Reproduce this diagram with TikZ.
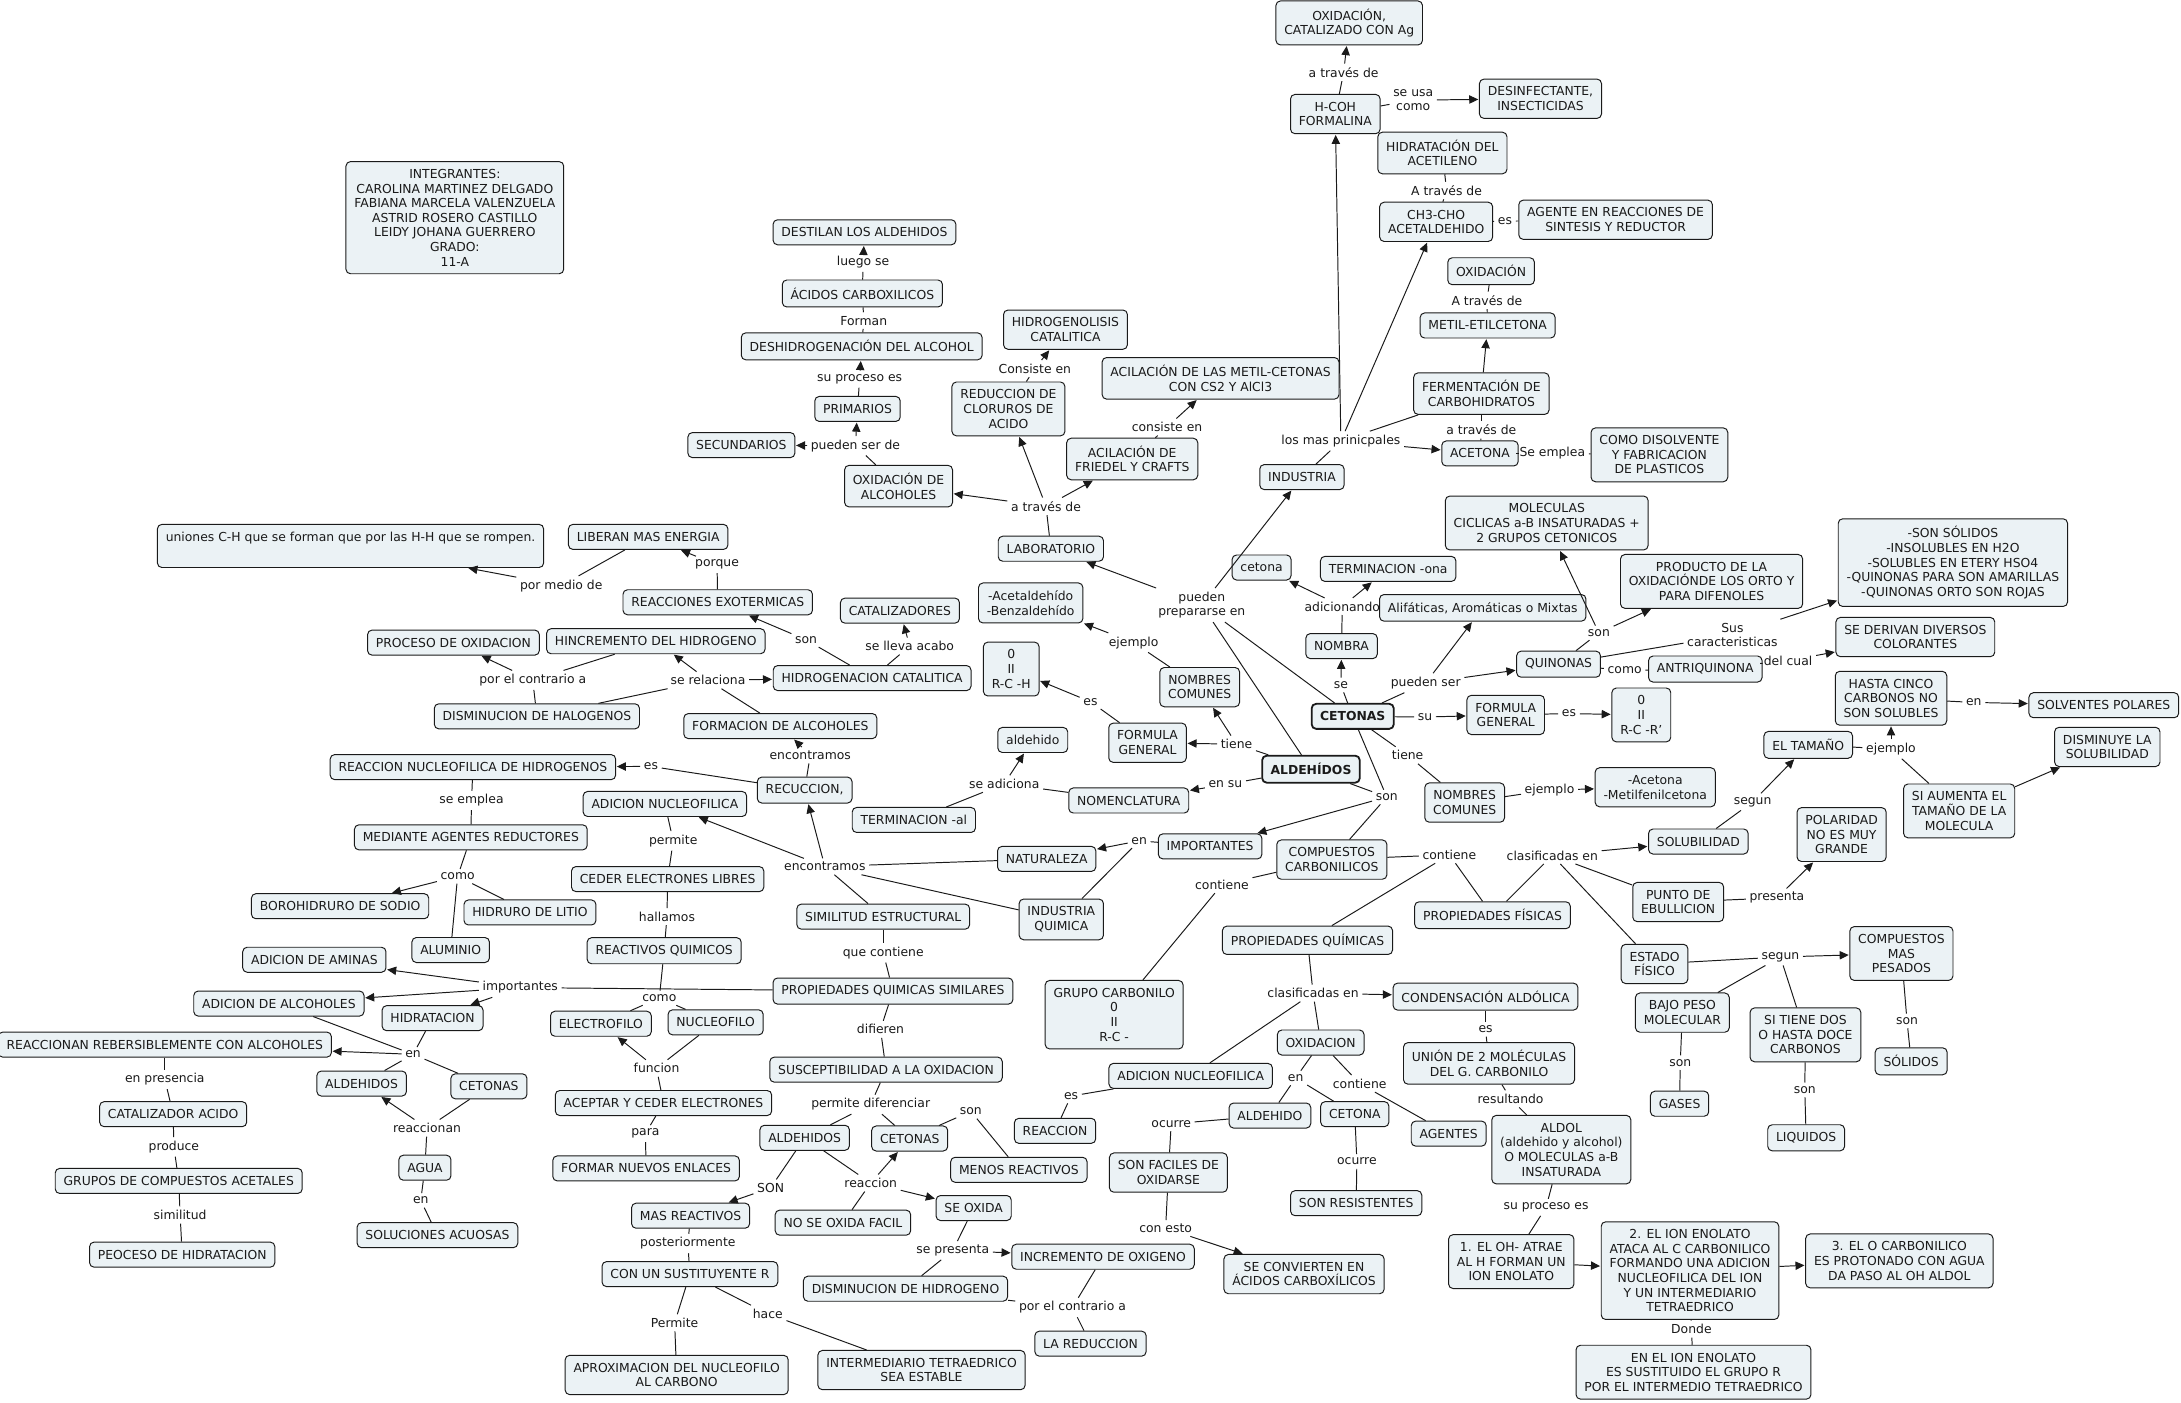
\documentclass[tikz,border=0pt]{standalone}
\usepackage{fontspec}
\setmainfont{DejaVu Sans}
\usetikzlibrary{arrows.meta}
\definecolor{cfill}{HTML}{EBF2F5}
\definecolor{ink}{HTML}{1A1A1A}
\newcommand\cf{\fontsize{8.9}{10.5}\selectfont}
\newcommand\cL[2]{\draw[ln] (#1) -- (#2);}
\newcommand\cA[2]{\draw[ar] (#1) -- (#2);}
\begin{document}
\begin{tikzpicture}[x=1pt,y=-1pt,
 cpt/.style={draw=ink, fill=cfill, rounded corners=3.2pt, align=center, inner xsep=6pt, inner ysep=5.5pt, minimum height=18pt, font=\cf, text=ink, line width=0.7pt},
 bcpt/.style={cpt, font=\cf\bfseries, line width=1.3pt},
 lk/.style={align=center, inner sep=2.5pt, font=\cf, text=ink},
 ln/.style={draw=ink, line width=0.7pt},
 ar/.style={ln, -{Triangle[length=6.5pt,width=6pt]}, shorten >=0.5pt}]
\fill[white] (0,0) rectangle (1568,1008);
\useasboundingbox (0,0) rectangle (1568,1008);

% ---------------- concepts ----------------
\node[cpt] (oxag) at (970,16.5) {OXIDACIÓN,\\CATALIZADO CON Ag};
\node[cpt] (hcoh) at (960,82) {H-COH\\FORMALINA};
\node[cpt] (desin) at (1107.5,71) {DESINFECTANTE,\\INSECTICIDAS};
\node[cpt] (hidac) at (1037,110) {HIDRATACIÓN DEL\\ACETILENO};
\node[cpt] (ch3) at (1032.5,159.5) {CH3-CHO\\ACETALDEHIDO};
\node[cpt] (agente) at (1161.5,158) {AGENTE EN REACCIONES DE\\SINTESIS Y REDUCTOR};
\node[cpt] (oxid) at (1072,195) {OXIDACIÓN};
\node[cpt] (metil) at (1069.5,234) {METIL-ETILCETONA};
\node[cpt] (ferm) at (1065,283) {FERMENTACIÓN DE\\CARBOHIDRATOS};
\node[cpt] (acetona) at (1064,326) {ACETONA};
\node[cpt] (disolv) at (1193,327) {COMO DISOLVENTE\\Y FABRICACION\\DE PLASTICOS};
\node[cpt] (ind) at (936,343) {INDUSTRIA};
\node[cpt] (acilm) at (877.5,272) {ACILACIÓN DE LAS METIL-CETONAS\\CON CS2 Y AlCl3};
\node[cpt] (acilf) at (814,330) {ACILACIÓN DE\\FRIEDEL Y CRAFTS};
\node[cpt] (hidrog) at (766,237) {HIDROGENOLISIS\\CATALITICA};
\node[cpt] (reducc) at (725,294) {REDUCCION DE\\CLORUROS DE\\ACIDO};
\node[cpt] (lab) at (755.5,394.5) {LABORATORIO};
\node[cpt] (oxalc) at (646,349.5) {OXIDACIÓN DE\\ALCOHOLES};
\node[cpt] (secund) at (533,320) {SECUNDARIOS};
\node[cpt] (prim) at (616.5,294) {PRIMARIOS};
\node[cpt] (deshid) at (619.5,249) {DESHIDROGENACIÓN DEL ALCOHOL};
\node[cpt] (acidos) at (620,211) {ÁCIDOS CARBOXILICOS};
\node[cpt] (destil) at (621.5,167) {DESTILAN LOS ALDEHIDOS};
\node[cpt] (integ) at (327,156.5) {INTEGRANTES:\\CAROLINA MARTINEZ DELGADO\\FABIANA MARCELA VALENZUELA\\ASTRID ROSERO CASTILLO\\LEIDY JOHANA GUERRERO\\GRADO:\\11-A};
\node[cpt, text height=7pt, text depth=13pt] (uniones) at (252,392.5) {uniones C-H que se forman que por las H-H que se rompen.};
\node[cpt] (liberan) at (466,386) {LIBERAN MAS ENERGIA};
\node[cpt] (exot) at (516,433) {REACCIONES EXOTERMICAS};
\node[cpt] (catal) at (647,439) {CATALIZADORES};
\node[cpt] (proc) at (326,462) {PROCESO DE OXIDACION};
\node[cpt] (hincr) at (471.5,461) {HINCREMENTO DEL HIDROGENO};
\node[cpt] (hidrocat) at (627,487.5) {HIDROGENACION CATALITICA};
\node[cpt] (dishal) at (386,515) {DISMINUCION DE HALOGENOS};
\node[cpt] (formalc) at (561,522) {FORMACION DE ALCOHOLES};
\node[cpt] (reacnuc) at (340,551.5) {REACCION NUCLEOFILICA DE HIDROGENOS};
\node[cpt] (recucc) at (578.5,568) {RECUCCION,};
\node[cpt] (adnuc1) at (478,578) {ADICION NUCLEOFILICA};
\node[cpt] (mediante) at (338.5,602) {MEDIANTE AGENTES REDUCTORES};
\node[cpt] (ceder) at (480,632) {CEDER ELECTRONES LIBRES};
\node[cpt] (boro) at (244.5,651.5) {BOROHIDRURO DE SODIO};
\node[cpt] (litio) at (381,656) {HIDRURO DE LITIO};
\node[cpt] (alum) at (324,683) {ALUMINIO};
\node[cpt] (reactq) at (477.5,683.5) {REACTIVOS QUIMICOS};
\node[cpt] (aminas) at (226,690) {ADICION DE AMINAS};
\node[cpt] (adalc) at (200.5,721.5) {ADICION DE ALCOHOLES};
\node[cpt] (hidrat) at (311,732) {HIDRATACION};
\node[cpt] (rever) at (118.5,751) {REACCIONAN REBERSIBLEMENTE CON ALCOHOLES};
\node[cpt] (ald1) at (260,779) {ALDEHIDOS};
\node[cpt] (cet1) at (351.5,781) {CETONAS};
\node[cpt] (agua) at (305.5,839.5) {AGUA};
\node[cpt] (solac) at (314.5,888) {SOLUCIONES ACUOSAS};
\node[cpt] (catac) at (124.5,801) {CATALIZADOR ACIDO};
\node[cpt] (grupos) at (128.5,849) {GRUPOS DE COMPUESTOS ACETALES};
\node[cpt] (peoc) at (131,902) {PEOCESO DE HIDRATACION};
\node[cpt] (electro) at (432,736) {ELECTROFILO};
\node[cpt] (nucleo) at (514.5,735) {NUCLEOFILO};
\node[cpt] (aceptar) at (477,793) {ACEPTAR Y CEDER ELECTRONES};
\node[cpt] (formar) at (464.5,840) {FORMAR NUEVOS ENLACES};
\node[cpt] (simil) at (635,659) {SIMILITUD ESTRUCTURAL};
\node[cpt] (pqs) at (642,712.5) {PROPIEDADES QUIMICAS SIMILARES};
\node[cpt] (suscep) at (637,769) {SUSCEPTIBILIDAD A LA OXIDACION};
\node[cpt] (ald2) at (578.5,818) {ALDEHIDOS};
\node[cpt] (cet2) at (654,818.5) {CETONAS};
\node[cpt] (menos) at (732.5,841) {MENOS REACTIVOS};
\node[cpt] (mas) at (496.5,874) {MAS REACTIVOS};
\node[cpt] (nooxida) at (606,879) {NO SE OXIDA FACIL};
\node[cpt] (seoxida) at (700,868.5) {SE OXIDA};
\node[cpt] (sustit) at (496,916) {CON UN SUSTITUYENTE R};
\node[cpt] (dishid) at (651,926.5) {DISMINUCION DE HIDROGENO};
\node[cpt] (incox) at (793,903.5) {INCREMENTO DE OXIGENO};
\node[cpt] (reduc) at (784,966) {LA REDUCCION};
\node[cpt] (aprox) at (486.5,988.5) {APROXIMACION DEL NUCLEOFILO\\AL CARBONO};
\node[cpt] (inter) at (662.5,985) {INTERMEDIARIO TETRAEDRICO\\SEA ESTABLE};
\node[cpt] (reaccion) at (758.5,813) {REACCION};
\node[cpt] (adnuc2) at (856,773.5) {ADICION NUCLEOFILICA};
\node[cpt] (gcarb) at (801,729.5) {GRUPO CARBONILO\\0\\II\\R-C -};
\node[cpt] (pquim) at (940,676) {PROPIEDADES QUÍMICAS};
\node[cpt] (oxmid) at (949.5,749.5) {OXIDACION};
\node[cpt] (conden) at (1068,716.5) {CONDENSACIÓN ALDÓLICA};
\node[cpt] (union) at (1070.5,764.5) {UNIÓN DE 2 MOLÉCULAS\\DEL G. CARBONILO};
\node[cpt] (ald3) at (913,802) {ALDEHIDO};
\node[cpt] (cet3) at (974,801) {CETONA};
\node[cpt] (agentes) at (1041.5,815) {AGENTES};
\node[cpt] (faciles) at (840,843) {SON FACILES DE\\OXIDARSE};
\node[cpt] (resist) at (975,865) {SON RESISTENTES};
\node[cpt] (convier) at (937.5,916) {SE CONVIERTEN EN\\ÁCIDOS CARBOXÍLICOS};
\node[cpt] (aldol) at (1122.5,826.5) {ALDOL\\(aldehido y alcohol)\\O MOLECULAS a-B\\INSATURADA};
\node[cpt] (paso1) at (1086.5,907) {1. EL OH- ATRAE\\AL H FORMAN UN\\ION ENOLATO};
\node[cpt] (paso2) at (1215,913.5) {2. EL ION ENOLATO\\ATACA AL C CARBONILICO\\FORMANDO UNA ADICION\\NUCLEOFILICA DEL ION\\Y UN INTERMEDIARIO\\TETRAEDRICO};
\node[cpt] (paso3) at (1365.5,906.5) {3. EL O CARBONILICO\\ES PROTONADO CON AGUA\\DA PASO AL OH ALDOL};
\node[cpt] (enion) at (1217.5,986.5) {EN EL ION ENOLATO\\ES SUSTITUIDO EL GRUPO R\\POR EL INTERMEDIO TETRAEDRICO};
\node[cpt] (pfis) at (1073,658) {PROPIEDADES FÍSICAS};
\node[cpt] (compcarb) at (957.5,618) {COMPUESTOS\\CARBONILICOS};
\node[cpt] (import) at (870,608.5) {IMPORTANTES};
\node[cpt] (natur) at (752.5,617.5) {NATURALEZA};
\node[cpt] (indq) at (763,661) {INDUSTRIA\\QUIMICA};
\node[cpt] (nomen) at (811.5,575.5) {NOMENCLATURA};
\node[bcpt] (aldh) at (942.5,553) {ALDEHÍDOS};
\node[cpt] (fg1) at (825,534) {FORMULA\\GENERAL};
\node[cpt] (nc1) at (862.5,494) {NOMBRES\\COMUNES};
\node[cpt] (rch) at (727,481) {0\\II\\R-C -H};
\node[cpt] (acetal) at (741,433.5) {-Acetaldehído\\-Benzaldehído};
\node[cpt] (aldehido) at (742.5,532) {aldehido};
\node[cpt] (termal) at (657,589.5) {TERMINACION -al};
\node[cpt] (cetona) at (907,408) {cetona};
\node[cpt] (termona) at (998,409) {TERMINACION -ona};
\node[cpt] (alif) at (1066,437) {Alifáticas, Aromáticas o Mixtas};
\node[cpt] (nombra) at (964.5,464.5) {NOMBRA};
\node[bcpt] (ceto) at (972.5,515) {CETONAS};
\node[cpt] (fg2) at (1082.5,514) {FORMULA\\GENERAL};
\node[cpt] (rcr) at (1180,514) {0\\II\\R-C -R'};
\node[cpt] (nc2) at (1053,577) {NOMBRES\\COMUNES};
\node[cpt] (acetonaej) at (1190,566) {-Acetona\\-Metilfenilcetona};
\node[cpt] (quin) at (1120.5,477.5) {QUINONAS};
\node[cpt] (molec) at (1112,376) {MOLECULAS\\CICLICAS a-B INSATURADAS +\\2 GRUPOS CETONICOS};
\node[cpt] (prod) at (1230.5,418) {PRODUCTO DE LA\\OXIDACIÓNDE LOS ORTO Y\\PARA DIFENOLES};
\node[cpt] (sonsol) at (1404,404.5) {-SON SÓLIDOS\\-INSOLUBLES EN H2O\\-SOLUBLES EN ETERY HSO4\\-QUINONAS PARA SON AMARILLAS\\-QUINONAS ORTO SON ROJAS};
\node[cpt] (deriv) at (1377,458) {SE DERIVAN DIVERSOS\\COLORANTES};
\node[cpt] (antri) at (1226,481) {ANTRIQUINONA};
\node[cpt] (hasta) at (1359.5,502) {HASTA CINCO\\CARBONOS NO\\SON SOLUBLES};
\node[cpt] (solv) at (1512.5,507) {SOLVENTES POLARES};
\node[cpt] (tam) at (1300,535.5) {EL TAMAÑO};
\node[cpt] (dismin) at (1515,537) {DISMINUYE LA\\SOLUBILIDAD};
\node[cpt] (siaum) at (1408.5,583) {SI AUMENTA EL\\TAMAÑO DE LA\\MOLECULA};
\node[cpt] (solub) at (1221,605) {SOLUBILIDAD};
\node[cpt] (polar) at (1324,600) {POLARIDAD\\NO ES MUY\\GRANDE};
\node[cpt] (punto) at (1206.5,648.5) {PUNTO DE\\EBULLICION};
\node[cpt] (estado) at (1189.5,693) {ESTADO\\FÍSICO};
\node[cpt] (compmas) at (1367,685.5) {COMPUESTOS\\MAS\\PESADOS};
\node[cpt] (bajo) at (1209.5,728) {BAJO PESO\\MOLECULAR};
\node[cpt] (sitiene) at (1298,744) {SI TIENE DOS\\O HASTA DOCE\\CARBONOS};
\node[cpt] (solidos) at (1374,763) {SÓLIDOS};
\node[cpt] (gases) at (1207.5,793.5) {GASES};
\node[cpt] (liq) at (1298.5,818) {LIQUIDOS};

% ---------------- linking phrases ----------------
\node[lk] (l1) at (966,52) {a través de};
\node[lk] (l2) at (1016,72) {se usa\\como};
\node[lk] (l3) at (1040,137) {A través de};
\node[lk] (l4) at (1082,159) {es};
\node[lk] (l5) at (1069,216) {A través de};
\node[lk] (l6) at (1065,309) {a través de};
\node[lk] (l7) at (1116,326) {Se emplea};
\node[lk] (l8) at (964,317) {los mas prinicpales};
\node[lk] (l9) at (839,307) {consiste en};
\node[lk] (l10) at (744,265) {Consiste en};
\node[lk] (l11) at (752,364) {a través de};
\node[lk] (l12) at (864,435) {pueden\\prepararse en};
\node[lk] (l13) at (615,320.5) {pueden ser de};
\node[lk] (l14) at (618,272.5) {su proceso es};
\node[lk] (l15) at (621,230.5) {Forman};
\node[lk] (l16) at (620.5,188.5) {luego se};
\node[lk] (l17) at (403.5,421) {por medio de};
\node[lk] (l18) at (515.5,406) {porque};
\node[lk] (l19) at (579.5,460) {son};
\node[lk] (l20) at (654,464.5) {se lleva acabo};
\node[lk] (l21) at (509,489) {se relaciona};
\node[lk] (l22) at (383,489) {por el contrario a};
\node[lk] (l23) at (582.5,543) {encontramos};
\node[lk] (l24) at (468,551) {es};
\node[lk] (l25) at (339,575.5) {se emplea};
\node[lk] (l26) at (329,630) {como};
\node[lk] (l27) at (593,623) {encontramos};
\node[lk] (l28) at (484,604.5) {permite};
\node[lk] (l29) at (479.5,659) {hallamos};
\node[lk] (l30) at (474,717.5) {como};
\node[lk] (l31) at (374,710) {importantes};
\node[lk] (l32) at (472,768) {funcion};
\node[lk] (l33) at (464,815) {para};
\node[lk] (l34) at (297,758) {en};
\node[lk] (l35) at (307,811) {reaccionan};
\node[lk] (l36) at (302.5,863) {en};
\node[lk] (l37) at (118.5,776) {en presencia};
\node[lk] (l38) at (125,824.5) {produce};
\node[lk] (l39) at (129.5,873.5) {similitud};
\node[lk] (l40) at (635,685) {que contiene};
\node[lk] (l41) at (633,740) {difieren};
\node[lk] (l42) at (626,794) {permite diferenciar};
\node[lk] (l43) at (698,799) {son};
\node[lk] (l44) at (554,854) {SON};
\node[lk] (l45) at (626,850.5) {reaccion};
\node[lk] (l46) at (494.5,894) {posteriormente};
\node[lk] (l47) at (485,951) {Permite};
\node[lk] (l48) at (552,944.5) {hace};
\node[lk] (l49) at (685,899) {se presenta};
\node[lk] (l50) at (771,940) {por el contrario a};
\node[lk] (l51) at (770,788) {es};
\node[lk] (l52) at (944,714) {clasificadas en};
\node[lk] (l53) at (931.5,775) {en};
\node[lk] (l54) at (977.5,779) {contiene};
\node[lk] (l55) at (842,808) {ocurre};
\node[lk] (l56) at (975.5,835) {ocurre};
\node[lk] (l57) at (838,883) {con esto};
\node[lk] (l58) at (1068,740) {es};
\node[lk] (l59) at (1086,790) {resultando};
\node[lk] (l60) at (1111.5,868) {su proceso es};
\node[lk] (l61) at (1216,955.5) {Donde};
\node[lk] (l62) at (1042,614.5) {contiene};
\node[lk] (l63) at (878.5,636) {contiene};
\node[lk] (l64) at (1116,615) {clasificadas en};
\node[lk] (l65) at (1260,576.5) {segun};
\node[lk] (l66) at (1359.5,538.5) {ejemplo};
\node[lk] (l67) at (1419,505) {en};
\node[lk] (l68) at (1277.5,645.5) {presenta};
\node[lk] (l69) at (1280,688) {segun};
\node[lk] (l70) at (1371,734) {son};
\node[lk] (l71) at (1208,764) {son};
\node[lk] (l72) at (1297.5,783.5) {son};
\node[lk] (l73) at (1149.5,455) {son};
\node[lk] (l74) at (1245.5,456.5) {Sus\\caracteristicas};
\node[lk] (l75) at (1168,482) {como};
\node[lk] (l76) at (1285.5,475) {del cual};
\node[lk] (l77) at (1025,491) {pueden ser};
\node[lk] (l78) at (964,492.5) {se};
\node[lk] (l79) at (965,436) {adicionando};
\node[lk] (l80) at (1024.5,515.5) {su};
\node[lk] (l81) at (1128,513) {es};
\node[lk] (l82) at (1012,543) {tiene};
\node[lk] (l83) at (1114,568) {ejemplo};
\node[lk] (l84) at (997,573) {son};
\node[lk] (l85) at (819,604.5) {en};
\node[lk] (l86) at (889,535) {tiene};
\node[lk] (l87) at (784,504.5) {es};
\node[lk] (l88) at (815,462) {ejemplo};
\node[lk] (l89) at (881,564) {en su};
\node[lk] (l90) at (722,563.5) {se adiciona};

% ---------------- connectors ----------------
\cL{hcoh}{l1} \cA{l1}{oxag}
\cL{hcoh}{l2} \cA{l2}{desin}
\cL{hidac}{l3} \cL{l3}{ch3}
\cL{ch3}{l4} \cL{l4}{agente}
\cL{oxid}{l5} \cL{l5}{metil}
\cL{ferm}{l6} \cL{l6}{acetona}
\cL{acetona}{l7} \cL{l7}{disolv}
\cL{ind}{l8} \cA{l8}{hcoh} \cA{l8}{ch3} \cL{l8}{ferm} \cA{ferm}{metil} \cA{l8}{acetona}
\cL{acilf}{l9} \cA{l9}{acilm}
\cL{reducc}{l10} \cA{l10}{hidrog}
\cL{lab}{l11} \cA{l11}{oxalc} \cA{l11}{reducc} \cA{l11}{acilf}
\cL{aldh}{l12} \cL{ceto}{l12} \cA{l12}{lab} \cA{l12}{ind}
\cL{oxalc}{l13} \cA{l13}{prim} \cA{l13}{secund}
\cL{prim}{l14} \cA{l14}{deshid}
\cL{deshid}{l15} \cL{l15}{acidos}
\cL{acidos}{l16} \cA{l16}{destil}
\cL{liberan}{l17} \cA{l17}{uniones}
\cL{exot}{l18} \cA{l18}{liberan}
\cL{hidrocat}{l19} \cA{l19}{exot}
\cL{hidrocat}{l20} \cA{l20}{catal}
\cL{dishal}{l21} \cL{formalc}{l21} \cA{l21}{hincr} \cA{l21}{hidrocat}
\cL{hincr}{l22} \cL{dishal}{l22} \cA{l22}{proc}
\cL{recucc}{l23} \cA{l23}{formalc}
\cL{recucc}{l24} \cA{l24}{reacnuc}
\cL{reacnuc}{l25} \cL{l25}{mediante}
\cL{mediante}{l26} \cA{l26}{boro} \cL{l26}{litio} \cL{l26}{alum}
\cL{simil}{l27} \cL{natur}{l27} \cL{indq}{l27} \cA{l27}{recucc} \cA{l27}{adnuc1}
\cL{adnuc1}{l28} \cL{l28}{ceder}
\cL{ceder}{l29} \cL{l29}{reactq}
\cL{reactq}{l30} \cL{l30}{electro} \cL{l30}{nucleo}
\cL{pqs}{l31} \cA{l31}{aminas} \cA{l31}{adalc} \cA{l31}{hidrat}
\cL{nucleo}{l32} \cA{l32}{electro} \cL{l32}{aceptar}
\cL{aceptar}{l33} \cL{l33}{formar}
\cL{hidrat}{l34} \cL{adalc}{l34} \cL{ald1}{l34} \cL{cet1}{l34} \cA{l34}{rever}
\cL{cet1}{l35} \cA{l35}{ald1} \cL{l35}{agua}
\cL{agua}{l36} \cL{l36}{solac}
\cL{rever}{l37} \cL{l37}{catac}
\cL{catac}{l38} \cL{l38}{grupos}
\cL{grupos}{l39} \cL{l39}{peoc}
\cL{simil}{l40} \cL{l40}{pqs}
\cL{pqs}{l41} \cL{l41}{suscep}
\cL{suscep}{l42} \cL{l42}{ald2} \cL{l42}{cet2}
\cL{cet2}{l43} \cL{l43}{menos}
\cL{ald2}{l44} \cA{l44}{mas}
\cL{ald2}{l45} \cL{nooxida}{l45} \cA{l45}{cet2} \cA{l45}{seoxida}
\cL{mas}{l46} \cL{l46}{sustit}
\cL{sustit}{l47} \cL{l47}{aprox}
\cL{sustit}{l48} \cL{l48}{inter}
\cL{seoxida}{l49} \cL{dishid}{l49} \cA{l49}{incox}
\cL{incox}{l50} \cL{dishid}{l50} \cL{l50}{reduc}
\cL{adnuc2}{l51} \cL{l51}{reaccion}
\cL{pquim}{l52} \cA{l52}{conden} \cL{l52}{adnuc2} \cL{l52}{oxmid}
\cL{oxmid}{l53} \cL{l53}{ald3} \cL{l53}{cet3}
\cL{oxmid}{l54} \cL{l54}{agentes}
\cL{ald3}{l55} \cL{l55}{faciles}
\cL{cet3}{l56} \cL{l56}{resist}
\cL{faciles}{l57} \cA{l57}{convier}
\cL{conden}{l58} \cL{l58}{union}
\cL{union}{l59} \cL{l59}{aldol}
\cL{aldol}{l60} \cL{l60}{paso1}
\cA{paso1}{paso2} \cA{paso2}{paso3}
\cL{paso2}{l61} \cL{l61}{enion}
\cL{compcarb}{l62} \cL{l62}{pquim} \cL{l62}{pfis}
\cL{compcarb}{l63} \cL{l63}{gcarb}
\cL{pfis}{l64} \cA{l64}{solub} \cL{l64}{punto} \cL{l64}{estado}
\cL{solub}{l65} \cA{l65}{tam}
\cL{tam}{l66} \cL{siaum}{l66} \cA{l66}{hasta}
\cL{hasta}{l67} \cA{l67}{solv}
\cA{siaum}{dismin}
\cL{punto}{l68} \cA{l68}{polar}
\cL{estado}{l69} \cA{l69}{compmas} \cL{l69}{bajo} \cL{l69}{sitiene}
\cL{compmas}{l70} \cL{l70}{solidos}
\cL{bajo}{l71} \cL{l71}{gases}
\cL{sitiene}{l72} \cL{l72}{liq}
\cL{quin}{l73} \cA{l73}{molec} \cA{l73}{prod}
\cL{quin}{l74} \cA{l74}{sonsol}
\cL{quin}{l75} \cL{l75}{antri}
\cL{antri}{l76} \cA{l76}{deriv}
\cL{ceto}{l77} \cA{l77}{quin} \cA{l77}{alif}
\cL{ceto}{l78} \cA{l78}{nombra}
\cL{nombra}{l79} \cA{l79}{cetona} \cA{l79}{termona}
\cL{ceto}{l80} \cA{l80}{fg2}
\cL{fg2}{l81} \cA{l81}{rcr}
\cL{ceto}{l82} \cL{l82}{nc2}
\cL{nc2}{l83} \cA{l83}{acetonaej}
\cL{ceto}{l84} \cL{aldh}{l84} \cA{l84}{import} \cL{l84}{compcarb}
\cL{import}{l85} \cA{l85}{natur} \cL{l85}{indq}
\cL{aldh}{l86} \cA{l86}{fg1} \cA{l86}{nc1}
\cL{fg1}{l87} \cA{l87}{rch}
\cL{nc1}{l88} \cA{l88}{acetal}
\cL{aldh}{l89} \cA{l89}{nomen}
\cL{nomen}{l90} \cL{termal}{l90} \cA{l90}{aldehido}
\end{tikzpicture}
\end{document}
